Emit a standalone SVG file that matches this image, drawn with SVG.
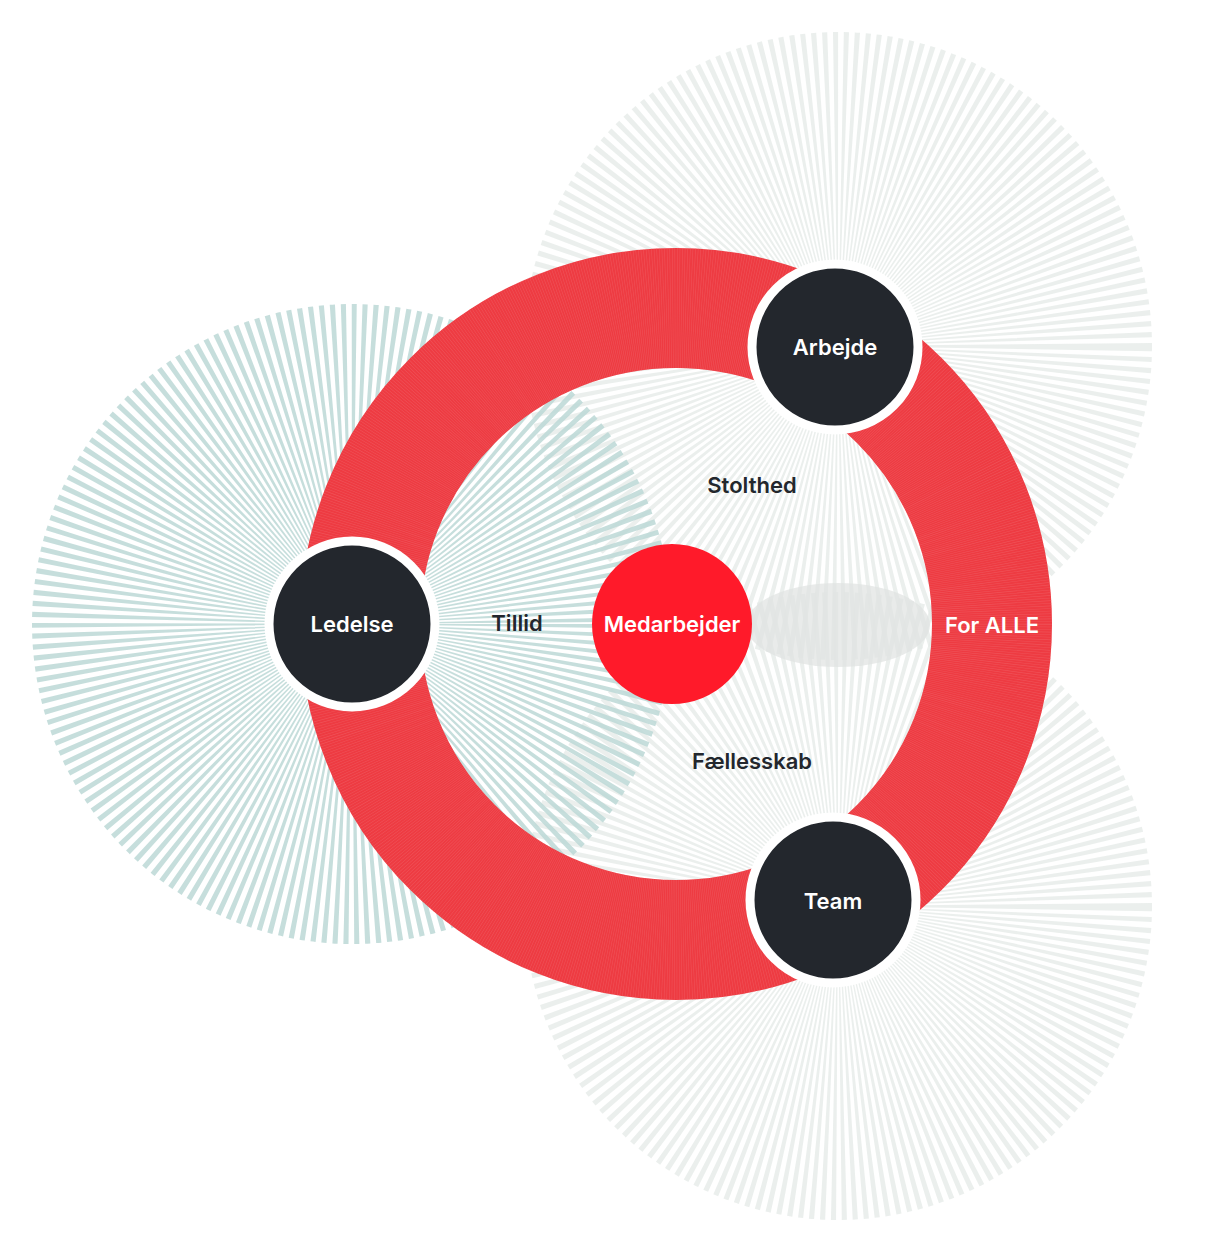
<svg xmlns="http://www.w3.org/2000/svg" width="1212" height="1244" viewBox="0 0 1212 1244">
<style>
.lbl{font-family:"Inter","Liberation Sans",sans-serif;font-size:22px;font-weight:600;text-anchor:middle;dominant-baseline:central}
.dark{fill:#23272d}
.node{fill:#23272d;stroke:#fff;stroke-width:9}
</style>
<rect width="1212" height="1244" fill="#fff"/>
<g id="bursts">
<circle cx="838" cy="346" r="157" fill="none" stroke="#e4e9e7" stroke-width="314" stroke-dasharray="2.6 2.9" opacity="0.75"/>
<circle cx="838" cy="906" r="157" fill="none" stroke="#e4e9e7" stroke-width="314" stroke-dasharray="2.6 2.9" opacity="0.75"/>
<circle cx="352" cy="624" r="160" fill="none" stroke="#bcd8d6" stroke-width="320" stroke-dasharray="2.6 2.9" opacity="0.85"/>
<ellipse cx="838" cy="625" rx="92" ry="42" fill="#dfe3e1" opacity="0.7"/>
</g>
<g id="ring">
<circle cx="676" cy="624" r="316" fill="none" stroke="#ee3b42" stroke-width="120"/>
<circle cx="676" cy="624" r="316" fill="none" stroke="#f26a6f" stroke-width="120" stroke-dasharray="0.6 1.6" opacity="0.5"/>
</g>
<g id="connectors"></g>
<g id="arbejde"><circle class="node" cx="835" cy="347" r="83"/><text class="lbl" x="835" y="347" fill="#fff">Arbejde</text></g>
<g id="ledelse"><circle class="node" cx="352" cy="624" r="83"/><text class="lbl" x="352" y="624" fill="#fff">Ledelse</text></g>
<g id="team"><circle class="node" cx="833" cy="900" r="83"/><text class="lbl" x="833" y="901" fill="#fff">Team</text></g>
<g id="medarbejder"><circle cx="672" cy="624" r="80" fill="#ff1a2a"/><text class="lbl" x="672" y="624" fill="#fff">Medarbejder</text></g>
<g id="labels">
<text class="lbl dark" x="752" y="485">Stolthed</text>
<text class="lbl dark" x="517" y="623">Tillid</text>
<text class="lbl dark" x="752" y="761">Fællesskab</text>
<text class="lbl" x="992" y="625" fill="#fff">For ALLE</text>
</g>
</svg>
